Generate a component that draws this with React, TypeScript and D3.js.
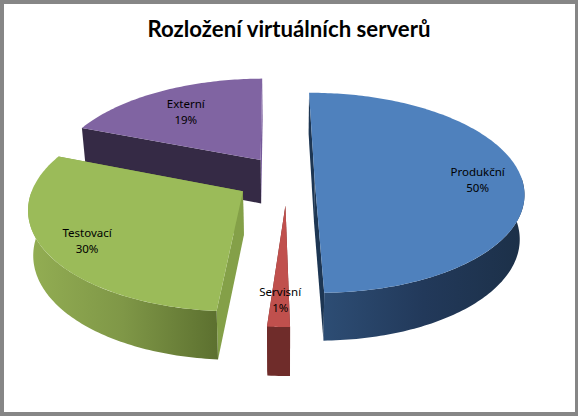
import * as d3 from 'd3';

// Exploded 3D pie, drawn with a small perspective projection on top of d3.pie
const categories = ['Produkční', 'Servisní', 'Testovací', 'Externí'];
const sliceValues = [49.85, 1.49, 29.7, 18.96];
const explosions = [0.133, 0.27, 0.247, 0.23];
const sliceRadii = [1, 0.97, 1, 1.01];
const labelRadii = [0.79, 0.76, 0.8, 0.73];
const topColors = ['#4f81bd', '#c0504d', '#9bbb59', '#8064a2'];
const faceColors = ['#1d3653', '#6f2c2a', '#84a048', '#352a45'];
const endFaceColors = ['#1d3653', '#6f2c2a', '#84a048', '#75599a'];
const drawOrder = [3, 2, 1, 0];

const WIDTH = 578;
const HEIGHT = 416;
const rad = Math.PI / 180;

const cx = 287;
const cy = 178;
const rx = 207;
const ry = 97.8;
const depth = 44;
const perspective = 0.15;
const startAngle = -0.6 * rad;

const pie = d3
  .pie<number>()
  .value((d) => d)
  .sort(null)
  .startAngle(startAngle)
  .endAngle(startAngle + 2 * Math.PI);

const arcs = pie(sliceValues);

function project(mid: number, explode: number, r: number, a: number, z: number): [number, number] {
  const u = explode * Math.sin(mid) + r * Math.sin(a);
  const v = -(explode * Math.cos(mid) + r * Math.cos(a));
  const s = 1 / (1 - perspective * v);
  const x = cx + rx * u * s;
  return [cx + (x - cx) * (1 - 0.02 * z), cy + ry * v * s + z * depth * (0.5 + 0.5 * s)];
}

const line = d3.line();

function arcAngles(a0: number, a1: number) {
  const n = Math.max(2, Math.ceil((a1 - a0) / rad));
  return d3.range(n + 1).map((i) => a0 + ((a1 - a0) * i) / n);
}

function Slice({ index }: { index: number }) {
  const { startAngle: a0, endAngle: a1 } = arcs[index];
  const mid = (a0 + a1) / 2;
  const ex = explosions[index];
  const R = sliceRadii[index];
  const p = (r: number, a: number, z: number) => project(mid, ex, r, a, z);

  const top = [p(0, 0, 0), ...arcAngles(a0, a1).map((a) => p(R, a, 0))];
  const face = (a: number) => [p(0, 0, 0), p(R, a, 0), p(R, a, 1), p(0, 0, 1)];

  // outer wall only exists on the side that faces the viewer
  const w0 = Math.max(a0, 90 * rad);
  const w1 = Math.min(a1, 270 * rad);
  const angles = w1 > w0 ? arcAngles(w0, w1) : [];
  const wall = [...angles.map((a) => p(R, a, 0)), ...angles.slice().reverse().map((a) => p(R, a, 1))];
  const wallFill = index === 0 ? 'url(#wallBlue)' : index === 2 ? 'url(#wallGreen)' : faceColors[index];

  return (
    <g>
      <path d={line(face(a1)) + 'Z'} fill={endFaceColors[index]} />
      <path d={line(face(a0)) + 'Z'} fill={faceColors[index]} />
      {wall.length > 0 && <path d={line(wall) + 'Z'} fill={wallFill} />}
      <path d={line(top) + 'Z'} fill={topColors[index]} />
    </g>
  );
}

function SliceLabel({ index }: { index: number }) {
  const { startAngle: a0, endAngle: a1 } = arcs[index];
  const mid = (a0 + a1) / 2;
  const [x, y] = project(mid, explosions[index], labelRadii[index], mid, 0);
  return (
    <text textAnchor="middle" fontFamily="'Noto Sans', sans-serif" fontSize={11.5} fill="#000">
      <tspan x={x} y={y - 1}>{categories[index]}</tspan>
      <tspan x={x} y={y + 15}>{Math.round(sliceValues[index])}%</tspan>
    </text>
  );
}

export default function App() {
  return (
    <svg
      width={WIDTH}
      height={HEIGHT}
      style={{ position: 'absolute', left: 0, top: 0, display: 'block' }}
    >
      <defs>
        <linearGradient id="wallBlue">
          <stop offset="0" stopColor="#2d4d74" />
          <stop offset="0.5" stopColor="#22395a" />
          <stop offset="1" stopColor="#1c3048" />
        </linearGradient>
        <linearGradient id="wallGreen">
          <stop offset="0" stopColor="#93ae53" />
          <stop offset="0.5" stopColor="#7f9747" />
          <stop offset="1" stopColor="#5c702f" />
        </linearGradient>
      </defs>
      <rect width={WIDTH} height={HEIGHT} fill="#868686" />
      <rect x={4} y={4} width={571} height={408} fill="#fff" />
      <text
        x={289}
        y={37}
        textAnchor="middle"
        fontFamily="Lato, sans-serif"
        fontWeight="bold"
        fontSize={22.2}
        fill="#000"
      >
        Rozložení virtuálních serverů
      </text>
      {drawOrder.map((i) => (
        <Slice key={categories[i]} index={i} />
      ))}
      {drawOrder.map((i) => (
        <SliceLabel key={categories[i]} index={i} />
      ))}
    </svg>
  );
}
